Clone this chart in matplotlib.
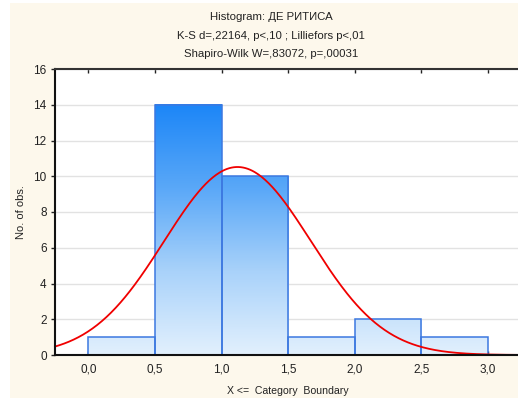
import numpy as np
import matplotlib
matplotlib.use("Agg")
import matplotlib.pyplot as plt
from matplotlib.colors import LinearSegmentedColormap
from matplotlib.patches import Rectangle

# ---- data ----
bin_edges = [0.0, 0.5, 1.0, 1.5, 2.0, 2.5, 3.0]
counts = [1, 14, 10, 1, 2, 1]
fit_mean = 1.12
fit_sd = 0.55
n_obs = sum(counts)
xtick_vals = [0.0, 0.5, 1.0, 1.5, 2.0, 2.5, 3.0]
xtick_labels = ["0,0", "0,5", "1,0", "1,5", "2,0", "2,5", "3,0"]
ytick_vals = [0, 2, 4, 6, 8, 10, 12, 14, 16]
title_lines = ["Histogram: ДЕ РИТИСА",
               "K-S d=,22164, p<,10 ; Lilliefors p<,01",
               "Shapiro-Wilk W=,83072, p=,00031"]

plt.rcParams['font.family'] = ['Liberation Sans', 'DejaVu Sans']

fig = plt.figure(figsize=(5.18, 3.98), dpi=100)
fig.patch.set_facecolor('white')
fig.patches.append(Rectangle((10/518, 0), 1 - 10/518, 1 - 3/398,
                             transform=fig.transFigure, facecolor='#FDF8EC',
                             edgecolor='none', zorder=-10))

ax = fig.add_axes([55/518, 1 - 355/398, (521.3 - 55)/518, (355 - 69)/398])
ax.set_facecolor('white')
xlim = (-0.25, 3.25)
ylim = (0, 16)

cmap = LinearSegmentedColormap.from_list(
    'bl', ['#E2F0FD', '#A9D2FA', '#5AA8F8', '#1C86F7'])
gmax = 14.0
for i, c in enumerate(counts):
    x0, x1 = bin_edges[i], bin_edges[i + 1]
    grad = np.linspace(0, c / gmax, 200).reshape(-1, 1)
    ax.imshow(grad, cmap=cmap, vmin=0, vmax=1, origin='lower', aspect='auto',
              extent=(x0, x1, 0, c), zorder=2, interpolation='bilinear')
    ax.add_patch(Rectangle((x0, 0), x1 - x0, c, facecolor='none',
                           edgecolor='#3C78E0', lw=1.1, zorder=3))
ax.set_xlim(*xlim)
ax.set_ylim(*ylim)

bw = bin_edges[1] - bin_edges[0]
xs = np.linspace(xlim[0], xlim[1], 400)
ys = n_obs * bw / (fit_sd * np.sqrt(2 * np.pi)) * np.exp(-0.5 * ((xs - fit_mean) / fit_sd) ** 2)
ax.plot(xs, ys, color='#F00000', lw=1.3, zorder=4, clip_on=False)

ax.set_yticks(ytick_vals)
ax.set_xticks(xtick_vals)
ax.set_xticklabels(xtick_labels)
ax.yaxis.grid(True, color='#E2E2E2', lw=1.0, zorder=0)
ax.set_axisbelow(True)

ax.tick_params(axis='both', labelsize=8.5, colors='#222222', length=3, width=1)
ax.tick_params(axis='x', top=True, direction='in', length=3, pad=6)
ax.tick_params(axis='y', direction='out', length=3, pad=3)

for s in ['left', 'bottom']:
    ax.spines[s].set_linewidth(1.5)
    ax.spines[s].set_color('#111111')
ax.spines['top'].set_linewidth(1.5)
ax.spines['top'].set_color('#333333')
ax.spines['right'].set_visible(False)
for s in ax.spines.values():
    s.set_zorder(6)

ax.set_ylabel("No. of obs.", fontsize=8, color='#222222', labelpad=5)
ax.set_xlabel("X <=  Category  Boundary", fontsize=7.6, color='#222222', labelpad=8)

cx = 271 / 518
for i, t in enumerate(title_lines):
    fig.text(cx, 1 - (17.5 + 18.3 * i) / 398, t, ha='center', va='center',
             fontsize=8.2, color='#222222')

fig.savefig('out.png', dpi=100, facecolor=fig.get_facecolor())
